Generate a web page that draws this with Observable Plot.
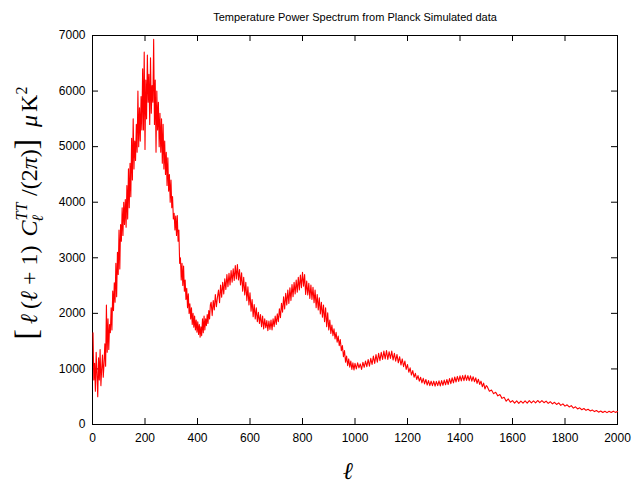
<!DOCTYPE html>
<html>
<head>
<meta charset="utf-8">
<script src="https://cdn.jsdelivr.net/npm/d3@7"></script>
<script src="https://cdn.jsdelivr.net/npm/@observablehq/plot@0.6"></script>
<style>
  html, body { margin: 0; padding: 0; background: #fff; }
</style>
</head>
<body>
<div id="chart"></div>
<script>
const chartTitle = "Temperature Power Spectrum from Planck Simulated data";
const xTicks = [0, 200, 400, 600, 800, 1000, 1200, 1400, 1600, 1800, 2000];
const yTicks = [0, 1000, 2000, 3000, 4000, 5000, 6000, 7000];

// segment A: multipoles 2, 5, 8, ... (step 3)
const segAStart = 2, segAStep = 3;
const segA = [1650, 800, 1100, 600, 1300, 900, 500, 1200, 800, 1350,
  700, 1000, 1250, 850, 1100, 1450, 1050, 2150, 1300, 1900,
  1350, 1800, 1650, 2100, 1700, 2400, 2050, 2550, 2200, 2900,
  2300, 3100, 2700, 3500, 2800, 3600, 3300, 3900, 3400, 4000,
  3600, 4050, 3550, 4300, 3700, 4600, 3900, 4700, 4100, 5150,
  4400, 5500, 4600, 5100, 4750, 5400, 4900, 6000, 5000, 5700,
  5100, 5900, 5300, 6400, 5300, 6700, 4950, 6200, 5500, 6650,
  5800, 6300, 5400, 6600, 5600, 6100, 5800, 6930, 5400, 6200,
  4900, 6000, 5300, 5800, 5000, 5600, 4900, 5500, 4700, 5400,
  4600, 5100, 4500, 4900, 4300, 4800, 4200, 4500, 4000, 4400,
  3900, 4100, 3700, 3800, 3500, 3750, 3400, 3760, 3300, 3500,
  2900, 3000, 2600, 2900, 2500, 2850, 2400, 2600, 2250, 2450,
  2100, 2350, 2000, 2170, 1900, 2100, 1800, 2000, 1750, 1950,
  1700, 1880, 1660, 1850, 1620, 1800, 1570, 1760, 1600, 1900,
  1650, 1950, 1700, 1900, 1780, 1980, 1820, 2050, 1900, 2150];

// segment B: multipoles 452, 456, ... 1000 (step 4)
const segBStart = 452, segBStep = 4;
const segB = [2200, 1960, 2230, 2060, 2340, 2120, 2290, 2420, 2190, 2510,
  2290, 2560, 2350, 2620, 2430, 2700, 2480, 2720, 2510, 2770,
  2560, 2800, 2590, 2860, 2620, 2880, 2600, 2790, 2510, 2730,
  2400, 2650, 2330, 2560, 2230, 2480, 2150, 2370, 2040, 2250,
  1940, 2160, 1900, 2100, 1850, 2020, 1820, 1980, 1760, 1950,
  1720, 1900, 1740, 1870, 1690, 1860, 1710, 1880, 1700, 1900,
  1760, 1950, 1800, 1990, 1850, 2080, 1920, 2180, 2020, 2300,
  2080, 2360, 2150, 2420, 2180, 2460, 2230, 2520, 2300, 2560,
  2350, 2600, 2380, 2650, 2420, 2690, 2460, 2740, 2490, 2700,
  2340, 2580, 2330, 2540, 2270, 2510, 2250, 2470, 2190, 2420,
  2100, 2340, 2060, 2280, 1990, 2200, 1930, 2150, 1850, 2100,
  1760, 2010, 1700, 1880, 1640, 1790, 1600, 1720, 1540, 1660,
  1480, 1590, 1420, 1530, 1330, 1420, 1220, 1330, 1120, 1230,
  1060, 1180, 1030, 1140, 990, 1110, 980, 1100];

// segment C: multipoles 1005, 1010, ... 1500 (step 5)
const segCStart = 1005, segCStep = 5;
const segC = [1000, 1110, 1020, 1090, 990, 1120, 1030, 1140, 1040,
  1170, 1050, 1190, 1080, 1230, 1100, 1260, 1120, 1280, 1150,
  1300, 1170, 1320, 1180, 1330, 1170, 1310, 1190, 1320, 1160,
  1280, 1140, 1260, 1110, 1220, 1070, 1180, 1040, 1140, 990,
  1080, 940, 1020, 890, 970, 850, 920, 810, 880, 780,
  850, 750, 830, 730, 810, 710, 790, 700, 780, 700,
  780, 690, 775, 700, 785, 695, 790, 705, 800, 715,
  810, 720, 825, 735, 840, 750, 855, 765, 865, 775,
  875, 785, 880, 790, 890, 795, 880, 790, 875, 780,
  860, 770, 840, 740, 815, 720, 780, 680, 745, 640,
  700];

// segment D: multipoles 1504, 1512, ... 2000 (step 8)
const segDStart = 1504, segDStep = 8;
const segD = [680, 600, 620, 555, 580, 515, 540, 470, 490, 420,
  460, 400, 430, 385, 425, 380, 420, 385, 425, 385,
  430, 390, 425, 390, 432, 395, 430, 392, 420, 380,
  410, 372, 400, 360, 390, 345, 372, 330, 355, 315,
  340, 295, 318, 280, 300, 266, 288, 255, 275, 245,
  262, 232, 252, 222, 243, 215, 238, 214, 237, 216,
  240, 218, 232];

const seg = (vals, start, step) => vals.map((v, i) => ({ell: start + step * i, dl: v}));
const rows = [
  ...seg(segA, segAStart, segAStep),
  ...seg(segB, segBStart, segBStep),
  ...seg(segC, segCStart, segCStep),
  ...seg(segD, segDStart, segDStep)
];

const W = 632, H = 485;
const mL = 92, mR = 15, mT = 35, mB = 61;
const plotW = W - mL - mR, plotH = H - mT - mB;
const tickLen = 6;

const chart = Plot.plot({
  width: W,
  height: H,
  marginLeft: mL,
  marginRight: mR,
  marginTop: mT,
  marginBottom: mB,
  style: {fontFamily: "'Liberation Sans', Arial, sans-serif", fontSize: "12px", color: "#000", background: "#fff"},
  x: {domain: [0, 2000], axis: null},
  y: {domain: [0, 7000], axis: null},
  marks: [
    Plot.axisX(xTicks, {anchor: "bottom", tickSize: 0, tickPadding: 9, label: null, fontSize: 12, tickFormat: d => String(d)}),
    Plot.axisY(yTicks, {anchor: "left", tickSize: 0, tickPadding: 7, label: null, fontSize: 12, tickFormat: d => String(d)}),
    Plot.ruleX(xTicks, {x: d => d, insetTop: plotH - tickLen, stroke: "#000"}),
    Plot.ruleX(xTicks, {x: d => d, insetBottom: plotH - tickLen, stroke: "#000"}),
    Plot.ruleY(yTicks, {y: d => d, insetRight: plotW - tickLen, stroke: "#000"}),
    Plot.ruleY(yTicks, {y: d => d, insetLeft: plotW - tickLen, stroke: "#000"}),
    Plot.frame({stroke: "#000", strokeWidth: 1}),
    Plot.line(rows, {x: "ell", y: "dl", stroke: "#ff0000", strokeWidth: 1.1}),
    Plot.text([chartTitle], {frameAnchor: "top", dy: -22, fontSize: 11, fill: "#000"}),
    Plot.text(["ℓ"], {frameAnchor: "bottom", dx: -7, dy: 54, fontSize: 24, fontStyle: "italic",
      fontFamily: "'Liberation Serif', 'DejaVu Serif', serif", fill: "#000"})
  ]
});

document.getElementById("chart").appendChild(chart);

// y-axis label (math notation) as real text
const svg = d3.select(chart);
const lab = svg.append("text")
  .attr("transform", "translate(37,213) rotate(-90)")
  .attr("text-anchor", "middle")
  .attr("fill", "#000")
  .style("font-family", "'Liberation Serif', 'DejaVu Serif', serif")
  .style("font-size", "24px");
lab.append("tspan").style("font-size", "31px").text("[");
lab.append("tspan").attr("dx", 5).style("font-style", "italic").text("ℓ");
lab.append("tspan").attr("dx", 5).text("(");
lab.append("tspan").style("font-style", "italic").text("ℓ");
lab.append("tspan").attr("dx", 6).text("+");
lab.append("tspan").attr("dx", 6).text("1)");
lab.append("tspan").attr("dx", 9).style("font-style", "italic").text("C");
lab.append("tspan").attr("dy", -10).style("font-size", "16px").style("font-style", "italic").text("TT");
lab.append("tspan").attr("dx", -19).attr("dy", 16).style("font-size", "16px").style("font-style", "italic").text("ℓ");
lab.append("tspan").attr("dx", 19).attr("dy", -6).text("/(2");
lab.append("tspan").style("font-style", "italic").text("π");
lab.append("tspan").text(")");
lab.append("tspan").style("font-size", "31px").text("]");
lab.append("tspan").attr("dx", 12).style("font-style", "italic").text("μ");
lab.append("tspan").attr("dx", 3).text("K");
lab.append("tspan").attr("dy", -10).style("font-size", "16px").text("2");
</script>
</body>
</html>
